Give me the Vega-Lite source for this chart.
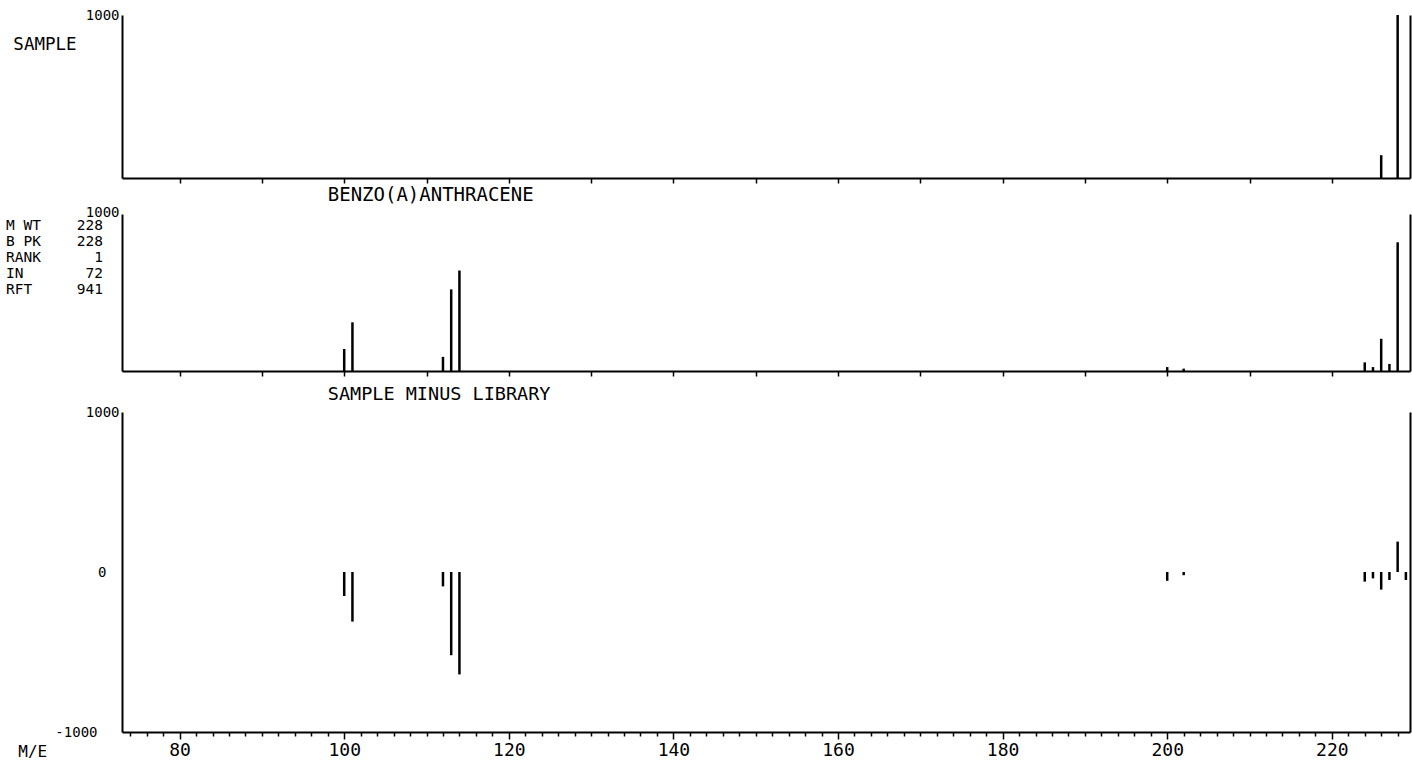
{
  "$schema": "https://vega.github.io/schema/vega-lite/v6.json",
  "background": "white",
  "padding": {"left": 5, "top": 8, "right": 2, "bottom": 5},
  "autosize": {"type": "pad"},
  "bounds": "flush",
  "spacing": 36,
  "config": {
    "view": {"stroke": null},
    "font": "DejaVu Sans Mono",
    "axis": {
      "domainColor": "black",
      "domainWidth": 2,
      "tickColor": "black",
      "tickWidth": 1.5,
      "labelColor": "black",
      "labelFont": "DejaVu Sans Mono",
      "grid": false,
      "title": null
    }
  },
  "datasets": {
    "sample": [
      {"mz": 226, "intensity": 140},
      {"mz": 228, "intensity": 1000}
    ],
    "library": [
      {"mz": 100, "intensity": 140},
      {"mz": 101, "intensity": 310},
      {"mz": 112, "intensity": 90},
      {"mz": 113, "intensity": 520},
      {"mz": 114, "intensity": 640},
      {"mz": 200, "intensity": 25},
      {"mz": 202, "intensity": 15},
      {"mz": 224, "intensity": 55},
      {"mz": 225, "intensity": 25},
      {"mz": 226, "intensity": 205},
      {"mz": 227, "intensity": 45},
      {"mz": 228, "intensity": 820}
    ],
    "difference": [
      {"mz": 100, "difference": -150},
      {"mz": 101, "difference": -310},
      {"mz": 112, "difference": -90},
      {"mz": 113, "difference": -520},
      {"mz": 114, "difference": -640},
      {"mz": 200, "difference": -55},
      {"mz": 202, "difference": -20},
      {"mz": 224, "difference": -60},
      {"mz": 225, "difference": -40},
      {"mz": 226, "difference": -110},
      {"mz": 227, "difference": -50},
      {"mz": 228, "difference": 190},
      {"mz": 229, "difference": -50}
    ],
    "one": [{}]
  },
  "vconcat": [
    {
      "width": 1288,
      "height": 163,
      "layer": [
        {
          "data": {"name": "sample"},
          "mark": {"type": "rule", "strokeWidth": 2.5, "color": "black"},
          "encoding": {
            "x": {
              "field": "mz", "type": "quantitative",
              "scale": {"domain": [73, 229.5], "nice": false, "zero": false},
              "axis": {"values": [80, 90, 100, 110, 120, 130, 140, 150, 160, 170, 180, 190, 200, 210, 220], "labels": false, "tickSize": 5}
            },
            "y": {
              "field": "intensity", "type": "quantitative",
              "scale": {"domain": [0, 1000], "nice": false},
              "axis": {"orient": "left", "values": [1000], "tickSize": 0, "labelPadding": 3, "labelFontSize": 14, "labelExpr": "datum.value + ''"}
            },
            "y2": {"datum": 0}
          }
        },
        {
          "data": {"name": "one"},
          "mark": {"type": "text", "align": "left", "baseline": "middle", "fontSize": 17.5, "color": "black"},
          "encoding": {
            "x": {"datum": 59.8, "type": "quantitative", "axis": null},
            "y": {"datum": 816, "type": "quantitative", "axis": {"orient": "right", "labels": false, "ticks": false}},
            "text": {"value": "SAMPLE"}
          }
        }
      ],
      "resolve": {"axis": {"x": "independent", "y": "independent"}}
    },
    {
      "spacing": 41,
      "bounds": "flush",
      "vconcat": [
        {
          "width": 1288,
          "height": 157,
          "layer": [
            {
              "data": {"name": "library"},
              "mark": {"type": "rule", "strokeWidth": 2.5, "color": "black"},
              "encoding": {
                "x": {
                  "field": "mz", "type": "quantitative",
                  "scale": {"domain": [73, 229.5], "nice": false, "zero": false},
                  "axis": {"values": [80, 90, 100, 110, 120, 130, 140, 150, 160, 170, 180, 190, 200, 210, 220], "labels": false, "tickSize": 5}
                },
                "y": {
                  "field": "intensity", "type": "quantitative",
                  "scale": {"domain": [0, 1000], "nice": false},
                  "axis": {"orient": "left", "values": [1000], "tickSize": 0, "labelPadding": 3, "labelOffset": -2, "labelFontSize": 14, "labelExpr": "datum.value + ''"}
                },
                "y2": {"datum": 0}
              }
            },
            {
              "data": {"name": "one"},
              "mark": {"type": "text", "align": "left", "baseline": "middle", "fontSize": 19, "color": "black"},
              "encoding": {
                "x": {"datum": 98, "type": "quantitative", "axis": null},
                "y": {"datum": 1120, "type": "quantitative", "axis": {"orient": "right", "labels": false, "ticks": false}},
                "text": {"value": "BENZO(A)ANTHRACENE"}
              }
            },
            {
              "data": {"name": "one"},
              "mark": {"type": "text", "align": "left", "baseline": "top", "fontSize": 14.5, "lineHeight": 16, "color": "black"},
              "encoding": {
                "x": {"datum": 58.9, "type": "quantitative", "axis": null},
                "y": {"datum": 965, "type": "quantitative", "axis": null},
                "text": {"value": ["M WT", "B PK", "RANK", "IN", "RFT"]}
              }
            },
            {
              "data": {"name": "one"},
              "mark": {"type": "text", "align": "right", "baseline": "top", "fontSize": 14.5, "lineHeight": 16, "color": "black"},
              "encoding": {
                "x": {"datum": 70.7, "type": "quantitative", "axis": null},
                "y": {"datum": 965, "type": "quantitative", "axis": null},
                "text": {"value": ["228", "228", "1", "72", "941"]}
              }
            }
          ],
          "resolve": {"axis": {"x": "independent", "y": "independent"}}
        },
        {
          "width": 1288,
          "height": 320,
          "layer": [
            {
              "data": {"name": "difference"},
              "mark": {"type": "rule", "strokeWidth": 2.5, "color": "black"},
              "encoding": {
                "x": {
                  "field": "mz", "type": "quantitative",
                  "scale": {"domain": [73, 229.5], "nice": false, "zero": false},
                  "axis": {
                    "values": [74, 76, 78, 80, 82, 84, 86, 88, 90, 92, 94, 96, 98, 100, 102, 104, 106, 108, 110, 112, 114, 116, 118, 120, 122, 124, 126, 128, 130, 132, 134, 136, 138, 140, 142, 144, 146, 148, 150, 152, 154, 156, 158, 160, 162, 164, 166, 168, 170, 172, 174, 176, 178, 180, 182, 184, 186, 188, 190, 192, 194, 196, 198, 200, 202, 204, 206, 208, 210, 212, 214, 216, 218, 220, 222, 224, 226, 228],
                    "tickSize": {"condition": {"test": "datum.value % 20 === 0", "value": 7}, "value": 4},
                    "labelExpr": "datum.value % 20 === 0 ? datum.value + '' : ''",
                    "labelFontSize": 18,
                    "labelPadding": 2,
                    "labelOverlap": false,
                    "labelFlush": false
                  }
                },
                "y": {
                  "field": "difference", "type": "quantitative",
                  "scale": {"domain": [-1000, 1000], "nice": false, "zero": false},
                  "axis": {
                    "orient": "left", "values": [1000, 0, -1000], "tickSize": 0,
                    "labelPadding": {"condition": [{"test": "datum.value === 0", "value": 16}, {"test": "datum.value < 0", "value": 25}], "value": 3},
                    "labelFontSize": 14,
                    "labelExpr": "datum.value + ''"
                  }
                },
                "y2": {"datum": 0}
              }
            },
            {
              "data": {"name": "one"},
              "mark": {"type": "text", "align": "left", "baseline": "middle", "fontSize": 18.5, "color": "black"},
              "encoding": {
                "x": {"datum": 98, "type": "quantitative", "axis": null},
                "y": {"datum": 1112, "type": "quantitative", "axis": {"orient": "right", "labels": false, "ticks": false}},
                "text": {"value": "SAMPLE MINUS LIBRARY"}
              }
            },
            {
              "data": {"name": "one"},
              "mark": {"type": "text", "align": "left", "baseline": "middle", "fontSize": 16, "color": "black"},
              "encoding": {
                "x": {"datum": 60.4, "type": "quantitative", "axis": null},
                "y": {"datum": -1125, "type": "quantitative", "axis": null},
                "text": {"value": "M/E"}
              }
            }
          ],
          "resolve": {"axis": {"x": "independent", "y": "independent"}}
        }
      ]
    }
  ]
}
